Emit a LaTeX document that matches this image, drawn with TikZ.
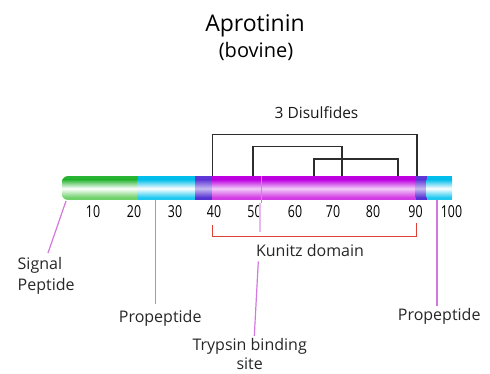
\documentclass[tikz,border=0pt]{standalone}
\usepackage{fontspec}
\setmainfont{Open Sans}
\newfontfamily\numfont[FakeStretch=0.75]{Open Sans}
\definecolor{gT}{RGB}{40,180,50}
\definecolor{gB}{RGB}{110,210,105}
\definecolor{cT}{RGB}{0,190,235}
\definecolor{cB}{RGB}{30,200,240}
\definecolor{vT}{RGB}{95,55,215}
\definecolor{vB}{RGB}{85,50,210}
\definecolor{mT}{RGB}{190,0,225}
\definecolor{mB}{RGB}{210,60,228}
\definecolor{pk}{RGB}{210,120,222}
\definecolor{pkl}{RGB}{232,185,238}
\definecolor{rd}{RGB}{220,65,55}
\definecolor{ssc}{RGB}{45,45,45}
\newcommand{\barseg}[5]{% x1 x2 top bottom mid
  \fill[#3] (#1,176) rectangle (#2,188);
  \fill[#4] (#1,188) rectangle (#2,200);
  \shade[top color=#3, bottom color=#4, middle color=#5] (#1,179.5) rectangle (#2,197.5);
}
\begin{document}
\begin{tikzpicture}[x=1pt,y=-1pt,
  lbl/.style={inner sep=0pt, font=\fontsize{16}{20}\selectfont, text=black!85},
  num/.style={inner sep=0pt, font=\numfont\fontsize{16.5}{18}\selectfont, anchor=base, text=black},
  ss/.style={draw=ssc, line width=1.1pt},
  pkline/.style={draw=pk, line width=1.2pt},
  rdline/.style={draw=rd, line width=1.2pt}]
\useasboundingbox (0,0) rectangle (490,374);
% titles
\node[inner sep=0pt, font=\fontsize{23}{26}\selectfont, anchor=base] (title) at (255,32) {Aprotinin};
\node[inner sep=0pt, font=\fontsize{20}{24}\selectfont, anchor=base] (sub) at (256,58) {(bovine)};
\node[inner sep=0pt, font=\fontsize{15.5}{18}\selectfont, anchor=base, text=black!90] (dis) at (316.5,119) {3 Disulfides};
% bar
\begin{scope}
\clip (138,176) -- (68,176) arc[start angle=270, end angle=180, radius=6] -- (62,194) arc[start angle=180, end angle=90, radius=6] -- (138,200) -- cycle;
\barseg{62}{138}{gT}{gB}{white}
\end{scope}
\barseg{137.5}{195}{cT}{cB}{white}
\barseg{195}{212.5}{vT}{vB}{vT!35!white}
\barseg{212}{416}{mT}{mB}{mT!20!white}
\barseg{415.5}{427}{vT}{vB}{vT!35!white}
\barseg{426.5}{452}{cT}{cB}{white}
\draw[cT!80!white, line width=1.2pt] (261.5,176) -- (261.5,203);
% disulfides
\draw[ss] (212.5,176) |- (417,134.7) -- (417,176);
\draw[ss] (253,176) |- (342,146.7) -- (342,176);
\draw[ss] (314,176) |- (398,159) -- (398,176);
% scale
\foreach \n/\x in {10/93,20/134,30/175,40/214,50/254.5,60/295,70/333,80/373,90/415.5,100/451.5}
  \node[num] (t\n) at (\x,218) {\n};
% kunitz bracket
\draw[rdline] (212.7,225.5) |- (416.7,236.5) -- (416.7,223);
\node[lbl, anchor=base] (kun) at (310,256) {Kunitz domain};
% signal peptide
\coordinate (sigA) at (66,201);
\coordinate (sigB) at (48,253);
\draw[pkline] (sigA) -- (sigB);
\node[lbl, anchor=north west, align=left, font=\fontsize{16}{21}\selectfont] (sig) at (17.5,257.5) {Signal\\Peptide};
% left propeptide
\coordinate (proLA) at (155.7,200);
\coordinate (proLB) at (155.7,304);
\draw[pkline] (proLA) -- (proLB);
\node[lbl, anchor=base] (proL) at (160.2,322.5) {Propeptide};
% right propeptide
\coordinate (proRA) at (437,200);
\coordinate (proRB) at (437,306);
\draw[pkline] (proRA) -- (proRB);
\node[lbl, anchor=base] (proR) at (439.2,320) {Propeptide};
% trypsin binding site
\coordinate (tryA) at (260,203);
\coordinate (tryB) at (260,232);
\coordinate (tryC) at (258.3,261.5);
\coordinate (tryD) at (254.3,336);
\draw[draw=pkl, line width=1.2pt] (tryA) -- (tryB);
\draw[pkline] (tryC) -- (tryD);
\node[lbl, anchor=north, align=center, font=\fontsize{16}{19}\selectfont] (try) at (249.7,338) {Trypsin binding\\site};
\end{tikzpicture}
\end{document}
